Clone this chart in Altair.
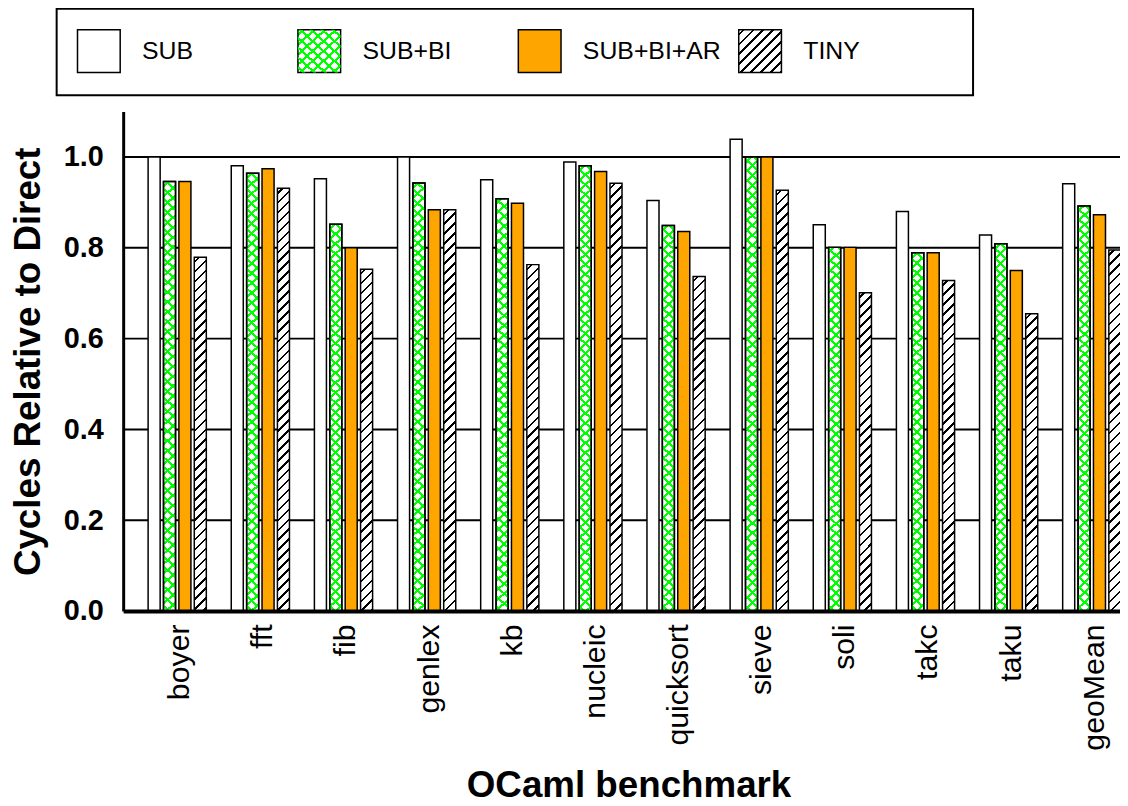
import json
import altair as alt

# ---------------- data ----------------
BENCH = ["boyer", "fft", "fib", "genlex", "kb", "nucleic", "quicksort",
         "sieve", "soli", "takc", "taku", "geoMean"]
SERIES = ["SUB", "SUB+BI", "SUB+BI+AR", "TINY"]
SUB = [1.000, 0.981, 0.952, 1.000, 0.950, 0.989, 0.904, 1.039, 0.851, 0.880, 0.828, 0.941]
SUB_BI = [0.946, 0.964, 0.852, 0.943, 0.908, 0.981, 0.849, 1.000, 0.801, 0.789, 0.809, 0.892]
SUB_BI_AR = [0.946, 0.974, 0.800, 0.884, 0.898, 0.968, 0.836, 1.000, 0.801, 0.789, 0.750, 0.873]
TINY = [0.779, 0.931, 0.753, 0.884, 0.763, 0.942, 0.737, 0.927, 0.701, 0.728, 0.655, 0.795]
Y_TICKS = [0.2, 0.4, 0.6, 0.8, 1.0]
SERIES_VALUES = [SUB, SUB_BI, SUB_BI_AR, TINY]

# ---------------- layout / style ----------------
YMAX = 1.1
PLOT_W = 1004
PLOT_H = 503
X_RANGE = 1030
PAD_X = 0.3
OFF_PAD = 0.218
FONT = "Liberation Sans"
ORANGE = "#FFA500"
GREEN = "#00FF00"

step = X_RANGE / (len(BENCH) - PAD_X + 2 * PAD_X)
bandw = step * (1 - PAD_X)
ostep = bandw / (len(SERIES) - OFF_PAD)
BW = ostep * (1 - OFF_PAD)


def stripes(w, h, a, b, period, thick, ink, bg, slash):
    L = a * w + b * h
    s = L / (a * a * w * w + b * b * h * h)
    if slash:
        x1, y1, x2, y2 = 0.0, 0.0, a * w * s, b * h * s
    else:
        x1, y1, x2, y2 = 0.0, 1.0, a * w * s, 1.0 - b * h * s
    stops = [{"offset": 0, "color": bg}]
    c = period / 2
    while c - thick / 2 < L:
        lo = round(max(0.0, (c - thick / 2) / L), 5)
        hi = round(min(1.0, (c + thick / 2) / L), 5)
        stops += [{"offset": lo, "color": bg}, {"offset": lo, "color": ink},
                  {"offset": hi, "color": ink}, {"offset": hi, "color": bg}]
        c += period
    return {"gradient": "linear", "x1": round(x1, 5), "y1": round(y1, 5),
            "x2": round(x2, 5), "y2": round(y2, 5), "stops": stops}


def hatch(w, h, bg):
    return stripes(w, h, 1.0, 1.0, 10.0, 2.6, "black", bg, True)


def cross1(w, h, bg):
    return stripes(w, h, 1 / 11, 1 / 10, 1.0, 0.29, GREEN, bg, True)


def cross2(w, h):
    return stripes(w, h, 1 / 11, 1 / 10, 1.0, 0.29, GREEN, "transparent", False)


rows = []
for si, sname in enumerate(SERIES):
    for bi, bname in enumerate(BENCH):
        v = SERIES_VALUES[si][bi]
        hpx = v / YMAX * PLOT_H
        if sname == "SUB":
            f1, f2 = "#ffffff", "transparent"
        elif sname == "SUB+BI":
            f1, f2 = cross1(BW, hpx, "#ffffff"), cross2(BW, hpx)
        elif sname == "SUB+BI+AR":
            f1, f2 = ORANGE, "transparent"
        else:
            f1, f2 = hatch(BW, hpx, "#ffffff"), "transparent"
        rows.append({"bench": bname, "series": sname, "value": v, "f1": f1, "f2": f2})

data = alt.Data(values=rows)
tick_data = alt.Data(values=[{"value": t} for t in Y_TICKS])

SYM = 43
legA_range = ["#ffffff", {"expr": json.dumps(cross1(SYM, SYM, "transparent"))},
              ORANGE, {"expr": json.dumps(hatch(SYM, SYM, "#ffffff"))}]
legB_range = ["transparent", {"expr": json.dumps(cross2(SYM, SYM))},
              "transparent", "transparent"]

X = alt.X("bench:N",
          scale=alt.Scale(domain=BENCH, range=[0, X_RANGE], paddingInner=PAD_X,
                          paddingOuter=PAD_X),
          axis=alt.Axis(title="OCaml benchmark", labelAngle=270, labelFont=FONT,
                        labelFontSize=30.5, labelColor="black", labelPadding=13,
                        labelOffset=3,
                        ticks=False, domainColor="black", domainWidth=4,
                        titleFont=FONT, titleFontSize=37, titleFontWeight="bold",
                        titleColor="black", titlePadding=18, titleX=509,
                        grid=False, zindex=1))
XO = alt.XOffset("series:N",
                 scale=alt.Scale(domain=SERIES, paddingInner=OFF_PAD, paddingOuter=0))
Y = alt.Y("value:Q",
          scale=alt.Scale(domain=[0, YMAX], nice=False, zero=True),
          axis=alt.Axis(title="Cycles Relative to Direct", values=[0, 0.2, 0.4, 0.6, 0.8, 1.0],
                        format=".1f", labelFont=FONT, labelFontSize=29,
                        labelFontWeight="bold", labelColor="black", labelPadding=20,
                        ticks=False, domainColor="black", domainWidth=3,
                        titleFont=FONT, titleFontSize=37, titleFontWeight="bold",
                        titleColor="black", titlePadding=16, grid=False, zindex=1))

grid = alt.Chart(tick_data).mark_rule(color="black", strokeWidth=2).encode(y=Y)

bars1 = alt.Chart(data).mark_bar(stroke="black", strokeWidth=1.5).encode(
    x=X, xOffset=XO, y=Y, fill=alt.Fill("f1:N", scale=None))

bars2 = alt.Chart(data).mark_bar(stroke="black", strokeWidth=1.5).encode(
    x=X, xOffset=XO, y=Y, fill=alt.Fill("f2:N", scale=None)
).transform_filter(alt.datum.series == "SUB+BI")

common_leg = dict(orient="none", legendX=-67, legendY=-103.5, direction="horizontal",
                  columns=4, gridAlign="all", symbolType="square",
                  symbolSize=SYM * SYM, labelFont=FONT, labelFontSize=25,
                  labelOffset=21, columnPadding=15, padding=20, labelLimit=400)

legA = alt.Chart(data).mark_bar(stroke="black", strokeWidth=1.5).encode(
    fill=alt.Fill("series:N", scale=alt.Scale(domain=SERIES, range=legA_range),
                  legend=alt.Legend(symbolStrokeColor="black", symbolStrokeWidth=1.5,
                                    labelColor="black", strokeColor="black",
                                    title="000000", titleOrient="right",
                                    titleFont=FONT, titleFontSize=26.4,
                                    titlePadding=5, titleOpacity=0,
                                    **common_leg))
).transform_filter("false")

legB = alt.Chart(data).mark_bar(strokeWidth=0).encode(
    fill=alt.Fill("series:N", scale=alt.Scale(domain=SERIES, range=legB_range),
                  legend=alt.Legend(symbolStrokeColor="transparent", symbolStrokeWidth=1.5,
                                    labelColor="transparent", title=None, **common_leg))
).transform_filter("false")

chart = alt.layer(grid, bars1, bars2, legA, legB).resolve_scale(
    fill="independent"
).properties(
    width=PLOT_W, height=PLOT_H,
    padding={"left": 116, "top": 101.5, "right": 0, "bottom": 193},
    autosize=alt.AutoSizeParams(type="none"),
    background="white",
).configure_view(stroke=None).configure_legend(strokeWidth=2)

chart.save("out.html", embed_options={"renderer": "svg", "actions": False})
